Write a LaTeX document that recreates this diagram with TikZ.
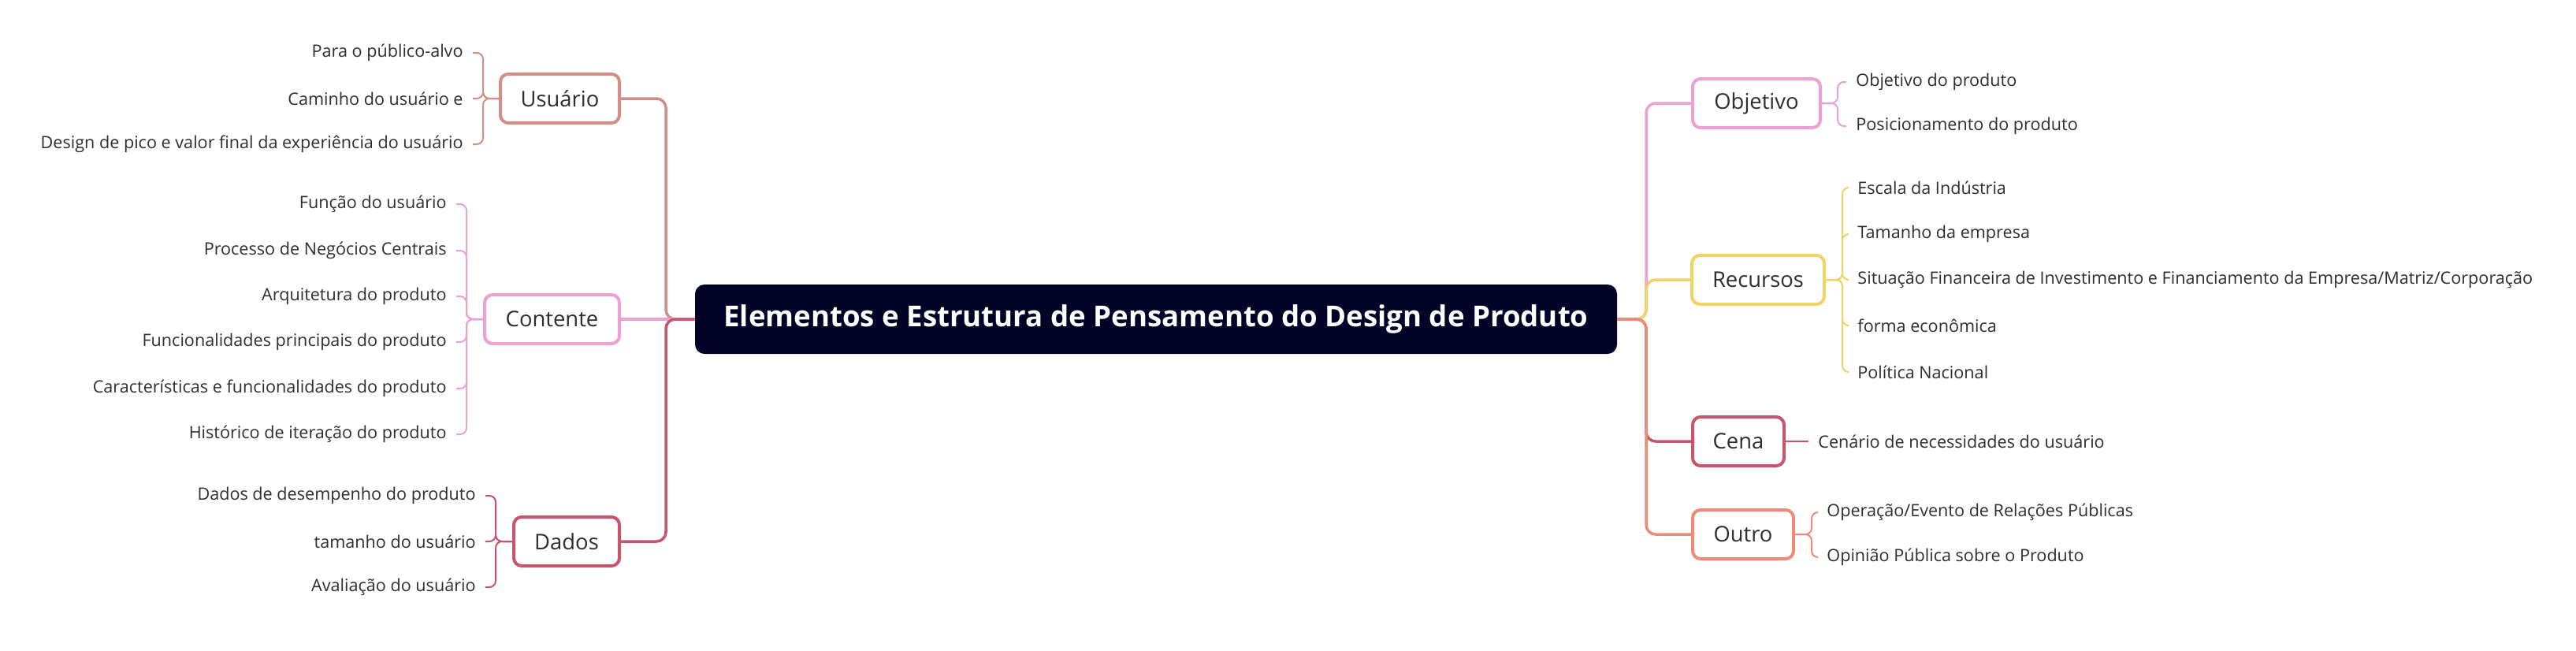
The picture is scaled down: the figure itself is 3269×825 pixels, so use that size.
\documentclass[tikz,border=0pt]{standalone}
\usepackage{fontspec}
\setmainfont{Open Sans}
\usepackage{xcolor}
\usetikzlibrary{positioning,calc}
\definecolor{rootbg}{HTML}{020226}
\definecolor{txt}{HTML}{2E2E2E}
\definecolor{usucol}{HTML}{D38E87}
\definecolor{pinkcol}{HTML}{EBA1D1}
\definecolor{redcol}{HTML}{C8556E}
\definecolor{yelcol}{HTML}{F2D264}
\definecolor{orgcol}{HTML}{EC8C78}
\tikzset{root/.style={rectangle, rounded corners=6pt, fill=rootbg, text=white, font=\fontsize{18.3}{21}\selectfont\bfseries, minimum width=585pt, minimum height=44pt},
topic/.style={rectangle, rounded corners=5pt, draw=#1, line width=2pt, fill=white, text=txt, font=\fontsize{13.7}{16}\selectfont, minimum height=31pt, inner xsep=6pt},
leaf/.style={text=txt, font=\fontsize{10.8}{13}\selectfont, inner xsep=6pt, inner ysep=0pt},
branch/.style={draw=#1, line width=1.75pt, rounded corners=6pt},
twig/.style={draw=#1, line width=1pt, rounded corners=4pt}}

\begin{document}
\begin{tikzpicture}[x=0.5pt,y=-0.5pt]
		\useasboundingbox (0,0) rectangle (3269,825);
		\node[root] (root) at (1467,405) {Elementos e Estrutura de Pensamento do Design de Produto};
		\coordinate (tl) at (845,405);
		\coordinate (tr) at (2089,405);
		\node[topic=usucol, minimum width=75.5pt, anchor=east] (usu) at (788,125) {Usuário};
		\node[topic=pinkcol, minimum width=85.5pt, anchor=east] (con) at (788,405) {Contente};
		\node[topic=redcol, minimum width=67pt, anchor=east] (dad) at (788,687) {Dados};
		\node[topic=pinkcol, minimum width=81pt, anchor=west] (obj) at (2146,131) {Objetivo};
		\node[topic=yelcol, minimum width=84pt, anchor=west] (rec) at (2145,355) {Recursos};
		\node[topic=redcol, minimum width=58pt, anchor=west] (cen) at (2146,560) {Cena};
		\node[topic=orgcol, minimum width=64pt, anchor=west] (out) at (2146,678) {Outro};
		\draw[branch=usucol] (root.west) -- (tl) |- (usu.east);
		\draw[branch=pinkcol] (root.west) -- (con.east);
		\draw[branch=redcol] (root.west) -- (tl) |- (dad.east);
		\draw[branch=pinkcol] (root.east) -- (tr) |- (obj.west);
		\draw[branch=yelcol] (root.east) -- (tr) |- (rec.west);
		\draw[branch=redcol] (root.east) -- (tr) |- (cen.west);
		\draw[branch=orgcol] (root.east) -- (tr) |- (out.west);
		\node[leaf, anchor=east] (u1) at (600,67) {Para o público-alvo};
		\node[leaf, anchor=east] (u2) at (600,125) {Caminho do usuário e};
		\node[leaf, anchor=east] (u3) at (600,183) {Design de pico e valor final da experiência do usuário};
		\foreach \n in {u1,u2,u3} \draw[twig=usucol] (usu.west) -- ++(-20,0) |- (\n.east);
		\node[leaf, anchor=east] (c1) at (579,259) {Função do usuário};
		\node[leaf, anchor=east] (c2) at (579,318) {Processo de Negócios Centrais};
		\node[leaf, anchor=east] (c3) at (579,376) {Arquitetura do produto};
		\node[leaf, anchor=east] (c4) at (579,434) {Funcionalidades principais do produto};
		\node[leaf, anchor=east] (c5) at (579,493) {Características e funcionalidades do produto};
		\node[leaf, anchor=east] (c6) at (579,551) {Histórico de iteração do produto};
		\foreach \n in {c1,c2,c3,c4,c5,c6} \draw[twig=pinkcol] (con.west) -- ++(-21,0) |- (\n.east);
		\node[leaf, anchor=east] (d1) at (616,629) {Dados de desempenho do produto};
		\node[leaf, anchor=east] (d2) at (616,687) {tamanho do usuário};
		\node[leaf, anchor=east] (d3) at (616,745) {Avaliação do usuário};
		\foreach \n in {d1,d2,d3} \draw[twig=redcol] (dad.west) -- ++(-21,0) |- (\n.east);
		\node[leaf, anchor=west] (o1) at (2343,104) {Objetivo do produto};
		\node[leaf, anchor=west] (o2) at (2343,160) {Posicionamento do produto};
		\foreach \n in {o1,o2} \draw[twig=pinkcol] (obj.east) -- ++(20,0) |- (\n.west);
		\node[leaf, anchor=west] (r1) at (2345,238) {Escala da Indústria};
		\node[leaf, anchor=west] (r2) at (2345,297) {Tamanho da empresa};
		\node[leaf, anchor=west] (r3) at (2345,355) {Situação Financeira de Investimento e Financiamento da Empresa/Matriz/Corporação};
		\node[leaf, anchor=west] (r4) at (2345,413) {forma econômica};
		\node[leaf, anchor=west] (r5) at (2345,472) {Política Nacional};
		\foreach \n in {r1,r2,r3,r4,r5} \draw[twig=yelcol] (rec.east) -- ++(21,0) |- (\n.west);
		\node[leaf, anchor=west] (s1) at (2295,560) {Cenário de necessidades do usuário};
		\draw[twig=redcol] (cen.east) -- (s1.west);
		\node[leaf, anchor=west] (t1) at (2306,650) {Operação/Evento de Relações Públicas};
		\node[leaf, anchor=west] (t2) at (2306,707) {Opinião Pública sobre o Produto};
		\foreach \n in {t1,t2} \draw[twig=orgcol] (out.east) -- ++(21,0) |- (\n.west);
		\end{tikzpicture}
\end{document}
